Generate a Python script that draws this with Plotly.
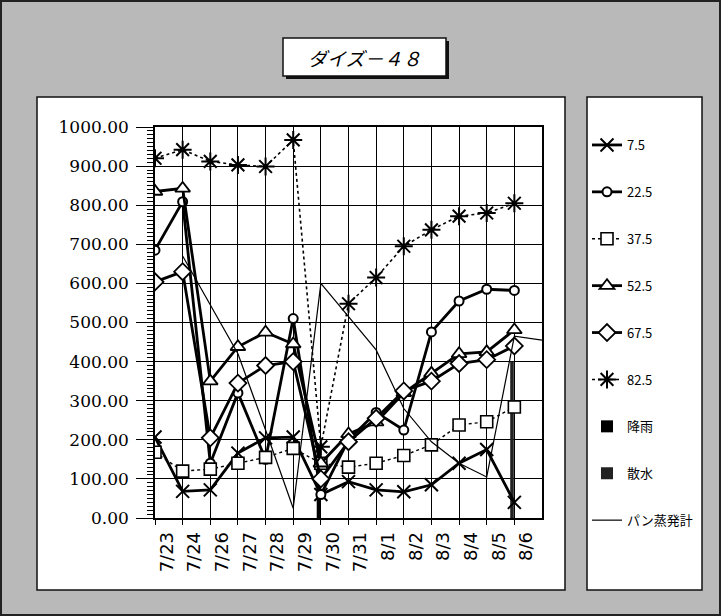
import plotly.graph_objects as go

# Category axis: observation dates (7/25 has no reading)
dates = ["7/23", "7/24", "7/26", "7/27", "7/28", "7/29", "7/30",
         "7/31", "8/1", "8/2", "8/3", "8/4", "8/5", "8/6"]

# Readings per depth (cm)
d7_5 = [207, 68, 72, 166, 205, 207, 60, 93, 72, 67, 85, 140, 175, 40]
d22_5 = [685, 809, 140, 320, 150, 510, 60, 200, 270, 225, 476, 555, 585, 582]
d37_5 = [168, 120, 125, 140, 155, 178, 140, 130, 140, 160, 187, 238, 246, 284]
d52_5 = [835, 843, 350, 438, 475, 445, 140, 215, 245, 320, 370, 420, 425, 481]
d67_5 = [604, 630, 205, 345, 390, 400, 100, 195, 255, 325, 350, 395, 405, 440]
d82_5 = [920, 942, 912, 903, 899, 967, 182, 548, 615, 695, 737, 772, 780, 805]

# Rainfall / irrigation
rain = [0, 0, 0, 0, 0, 0, 182, 0, 0, 0, 0, 0, 0, 0]
irrigation = [0, 0, 0, 0, 0, 0, 0, 0, 0, 0, 0, 0, 0, 400]

# Pan evaporimeter, one reading per day 7/23 .. 8/6 plus the next day
pan = [None, 670, 545, 420, 225, 25, 600, 515, 430, 280, 195, 140, 105, 465, 455]

W, H = 721, 616
L, T, PW, PH = 155, 127, 387, 391


def fx(p):
    return (p - L) / PW


def fy(p):
    return (T + PH - p) / PH


xi = list(range(len(dates)))
fig = go.Figure()

series = [
    ("7.5", d7_5, dict(symbol="x-thin", size=13, color="black",
                       line=dict(color="black", width=2)), "solid", 2.8),
    ("22.5", d22_5, dict(symbol="circle", size=9, color="white",
                         line=dict(color="black", width=2)), "solid", 2.8),
    ("37.5", d37_5, dict(symbol="square", size=12, color="white",
                         line=dict(color="black", width=1.6)), "dot", 1.4),
    ("52.5", d52_5, dict(symbol="triangle-up", size=13, color="white",
                         line=dict(color="black", width=1.8)), "solid", 2.8),
    ("67.5", d67_5, dict(symbol="diamond", size=13, color="white",
                         line=dict(color="black", width=1.8)), "solid", 2.8),
    ("82.5", d82_5, dict(symbol="asterisk", size=15, color="black",
                         line=dict(color="black", width=2)), "dot", 1.6),
]

for name, vals, mk, dash, lw in series:
    fig.add_trace(go.Scatter(
        x=xi, y=vals, name=name, mode="lines+markers",
        line=dict(color="black", width=lw, dash=dash),
        marker=mk, legendgroup=name,
    ))

fig.add_trace(go.Bar(
    x=xi, y=rain, name="降雨", width=0.13, offset=-0.15,
    marker=dict(color="black", line=dict(width=0)), legendgroup="rain",
))
fig.add_trace(go.Bar(
    x=xi, y=irrigation, name="散水", width=0.13, offset=-0.15,
    marker=dict(color="#222222", line=dict(width=0)), legendgroup="irr",
))
fig.add_trace(go.Scatter(
    x=list(range(len(pan))), y=pan, name="パン蒸発計", mode="lines",
    line=dict(color="black", width=1.2), legendgroup="pan",
    connectgaps=False,
))

shapes = [
    # outer frame
    dict(type="rect", xref="paper", yref="paper", x0=fx(1), x1=fx(W - 1),
         y0=fy(H - 1), y1=fy(1), line=dict(color="#222", width=2),
         fillcolor="rgba(0,0,0,0)", layer="below"),
    # chart panel
    dict(type="rect", xref="paper", yref="paper", x0=fx(37), x1=fx(565),
         y0=fy(590), y1=fy(97), line=dict(color="#111", width=1.5),
         fillcolor="white", layer="below"),
    # legend panel
    dict(type="rect", xref="paper", yref="paper", x0=fx(587), x1=fx(702),
         y0=fy(590), y1=fy(97), line=dict(color="#111", width=1.5),
         fillcolor="white", layer="below"),
    # title box shadow and box
    dict(type="rect", xref="paper", yref="paper", x0=fx(286), x1=fx(449),
         y0=fy(79), y1=fy(41), line=dict(width=0),
         fillcolor="#111", layer="below"),
    dict(type="rect", xref="paper", yref="paper", x0=fx(283), x1=fx(446),
         y0=fy(76), y1=fy(38), line=dict(color="#111", width=1.5),
         fillcolor="white", layer="below"),
]

fig.add_annotation(
    xref="paper", yref="paper", x=fx(364), y=fy(57),
    text="<i>ダイズ－４８</i>", showarrow=False,
    font=dict(family="Noto Sans CJK JP", size=19, color="black"),
    xanchor="center", yanchor="middle",
)

fig.update_layout(
    width=W, height=H,
    margin=dict(l=L, r=W - L - PW, t=T, b=H - T - PH, pad=0),
    paper_bgcolor="#b9b9b9",
    plot_bgcolor="white",
    shapes=shapes,
    barmode="overlay",
    showlegend=True,
    legend=dict(
        x=fx(587), y=fy(130), xanchor="left", yanchor="top",
        bgcolor="rgba(0,0,0,0)", borderwidth=0,
        font=dict(family="Noto Sans CJK JP", size=13, color="black"),
        traceorder="grouped", tracegroupgap=27, itemwidth=30,
        maxheight=600,
    ),
    xaxis=dict(
        range=[0, len(dates)], tickmode="array", tickvals=xi, ticktext=dates,
        tickangle=-90, ticks="outside", ticklen=5, tickcolor="black",
        showgrid=True, gridcolor="black", gridwidth=1.3,
        showline=True, linecolor="black", linewidth=1.5, mirror=True,
        zeroline=False, ticklabelshift=12, ticklabelstandoff=0,
        tickfont=dict(family="DejaVu Sans", size=18, color="black"),
    ),
    yaxis=dict(
        range=[0, 1000], dtick=100, tickformat=".2f",
        ticks="outside", ticklen=17, tickcolor="black",
        minor=dict(dtick=10, ticks="outside", ticklen=6, tickcolor="black",
                   showgrid=False),
        showgrid=True, gridcolor="black", gridwidth=1.3,
        showline=True, linecolor="black", linewidth=1.5, mirror=True,
        zeroline=False, ticklabelstandoff=4,
        tickfont=dict(family="DejaVu Serif", size=17, color="black"),
    ),
)

fig.write_html("out.html")
